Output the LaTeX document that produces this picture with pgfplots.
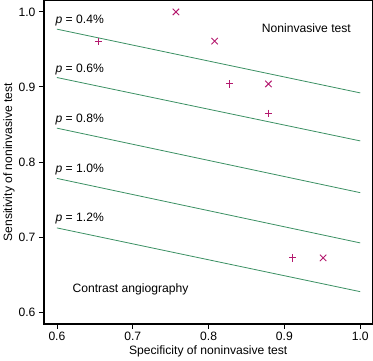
\documentclass[border=0pt]{standalone}
\usepackage{pgfplots}
\pgfplotsset{compat=1.18}
\usepackage{fontspec}
\setmainfont{Liberation Sans}
\definecolor{lgreen}{RGB}{60,145,100}
\definecolor{mmag}{RGB}{180,25,110}
\begin{document}
\begin{tikzpicture}[font=\fontsize{12}{14.4}\selectfont]
\begin{axis}[
  scale only axis, width=325pt, height=320pt,
  xmin=0.583, xmax=1.016, ymin=0.584, ymax=1.015,
  xtick={0.6,0.7,0.8,0.9,1.0}, ytick={0.6,0.7,0.8,0.9,1.0},
  xticklabels={0.6,0.7,0.8,0.9,1.0}, yticklabels={0.6,0.7,0.8,0.9,1.0},
  tick align=outside, xtick pos=bottom, ytick pos=left,
  major tick length=5pt,
  every tick/.style={black, line width=0.8pt},
  axis line style={line width=1.3pt},
  every axis label/.append style={font=\fontsize{12}{14.4}\selectfont},
  every tick label/.append style={font=\fontsize{12}{14.4}\selectfont},
  /pgf/number format/assume math mode=true,
  xlabel={Specificity of noninvasive test},
  ylabel={Sensitivity of noninvasive test},
  xlabel style={yshift=2pt},
  ylabel style={yshift=-3pt},
  clip=false,
]
\addplot[lgreen, line width=0.8pt] coordinates {(0.6,0.977) (1.0,0.892)};
\addplot[lgreen, line width=0.8pt] coordinates {(0.6,0.9125) (1.0,0.828)};
\addplot[lgreen, line width=0.8pt] coordinates {(0.6,0.845) (1.0,0.759)};
\addplot[lgreen, line width=0.8pt] coordinates {(0.6,0.778) (1.0,0.692)};
\addplot[lgreen, line width=0.8pt] coordinates {(0.6,0.712) (1.0,0.627)};
\addplot[only marks, mark=x, mark size=4.5pt, mmag, line width=0.9pt] coordinates {(0.757,1.0) (0.808,0.961) (0.879,0.904) (0.951,0.672)};
\addplot[only marks, mark=+, mark size=3.6pt, mmag, line width=0.9pt] coordinates {(0.655,0.961) (0.828,0.904) (0.879,0.865) (0.911,0.672)};
\node[anchor=west, inner sep=0pt] at (axis cs:0.598,0.989) {\textit{p} = 0.4\%};
\node[anchor=west, inner sep=0pt] at (axis cs:0.598,0.923) {\textit{p} = 0.6\%};
\node[anchor=west, inner sep=0pt] at (axis cs:0.598,0.857) {\textit{p} = 0.8\%};
\node[anchor=west, inner sep=0pt] at (axis cs:0.598,0.790) {\textit{p} = 1.0\%};
\node[anchor=west, inner sep=0pt] at (axis cs:0.598,0.724) {\textit{p} = 1.2\%};
\node[inner sep=0pt] at (axis cs:0.929,0.978) {Noninvasive test};
\node[inner sep=0pt] at (axis cs:0.697,0.630) {Contrast angiography};
\end{axis}
\end{tikzpicture}
\end{document}
